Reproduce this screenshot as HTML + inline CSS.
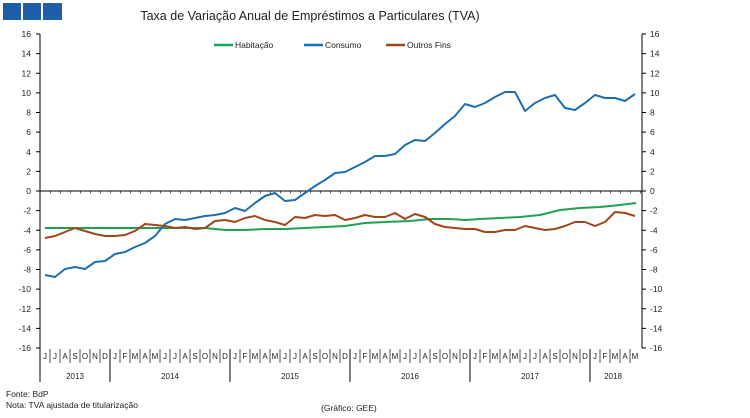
<!DOCTYPE html>
<html><head><meta charset="utf-8"><style>
body{margin:0;background:#fff;}
svg{display:block;font-family:"Liberation Sans",Arial,sans-serif;}
</style></head><body>
<svg width="750" height="418" viewBox="0 0 750 418" xmlns="http://www.w3.org/2000/svg">
<rect x="3" y="3" width="18" height="17" fill="#1f5ea8"/>
<rect x="23" y="3" width="18" height="17" fill="#1f5ea8"/>
<rect x="43" y="3" width="19" height="17" fill="#1f5ea8"/>
<text x="310" y="20" font-size="12.5" text-anchor="middle" fill="#222">Taxa de Variação Anual de Empréstimos a Particulares (TVA)</text>
<g font-size="8.5" fill="#222">
<line x1="214" y1="45" x2="233" y2="45" stroke="#1fa155" stroke-width="2.5"/><text x="235" y="48">Habitação</text>
<line x1="304" y1="45" x2="323" y2="45" stroke="#1f6fb0" stroke-width="2.5"/><text x="325" y="48">Consumo</text>
<line x1="386" y1="45" x2="405" y2="45" stroke="#a0461a" stroke-width="2.5"/><text x="407" y="48">Outros Fins</text>
</g>
<g stroke="#000" stroke-width="1">
<line x1="40" y1="34" x2="40" y2="382"/>
<line x1="642" y1="34" x2="642" y2="348"/>
<line x1="40" y1="191" x2="642" y2="191"/>
</g>
<g stroke="#000" stroke-width="1">
<path d="M36 34H40M36 53.6H40M36 73.3H40M36 92.9H40M36 112.5H40M36 132.1H40M36 151.8H40M36 171.4H40M36 191H40M36 210.6H40M36 230.3H40M36 249.9H40M36 269.5H40M36 289.1H40M36 308.8H40M36 328.4H40M36 348H40"/>
<path d="M642 34H646M642 53.6H646M642 73.3H646M642 92.9H646M642 112.5H646M642 132.1H646M642 151.8H646M642 171.4H646M642 191H646M642 210.6H646M642 230.3H646M642 249.9H646M642 269.5H646M642 289.1H646M642 308.8H646M642 328.4H646M642 348H646"/>
</g>
<line x1="50" y1="192.5" x2="642" y2="192.5" stroke="#444" stroke-width="2" stroke-dasharray="0.8 9.2"/>
<g font-size="8.5" fill="#222" text-anchor="end">
<text x="31" y="37">16</text><text x="31" y="56.6">14</text><text x="31" y="76.3">12</text><text x="31" y="95.9">10</text><text x="31" y="115.5">8</text><text x="31" y="135.1">6</text><text x="31" y="154.8">4</text><text x="31" y="174.4">2</text><text x="31" y="194">0</text><text x="31" y="213.6">-2</text><text x="31" y="233.3">-4</text><text x="31" y="252.9">-6</text><text x="31" y="272.5">-8</text><text x="31" y="292.1">-10</text><text x="31" y="311.8">-12</text><text x="31" y="331.4">-14</text><text x="31" y="351">-16</text>
</g>
<g font-size="8.5" fill="#222">
<text x="650" y="37">16</text><text x="650" y="56.6">14</text><text x="650" y="76.3">12</text><text x="650" y="95.9">10</text><text x="650" y="115.5">8</text><text x="650" y="135.1">6</text><text x="650" y="154.8">4</text><text x="650" y="174.4">2</text><text x="650" y="194">0</text><text x="650" y="213.6">-2</text><text x="650" y="233.3">-4</text><text x="650" y="252.9">-6</text><text x="650" y="272.5">-8</text><text x="650" y="292.1">-10</text><text x="650" y="311.8">-12</text><text x="650" y="331.4">-14</text><text x="650" y="351">-16</text>
</g>
<g stroke="#555" stroke-width="1">
<path d="M50 349V363M60 349V363M70 349V363M80 349V363M90 349V363M100 349V363M120 349V363M130 349V363M140 349V363M150 349V363M160 349V363M170 349V363M180 349V363M190 349V363M200 349V363M210 349V363M220 349V363M240 349V363M250 349V363M260 349V363M270 349V363M280 349V363M290 349V363M300 349V363M310 349V363M320 349V363M330 349V363M340 349V363M360 349V363M370 349V363M380 349V363M390 349V363M400 349V363M410 349V363M420 349V363M430 349V363M440 349V363M450 349V363M460 349V363M480 349V363M490 349V363M500 349V363M510 349V363M520 349V363M530 349V363M540 349V363M550 349V363M560 349V363M570 349V363M580 349V363M600 349V363M610 349V363M620 349V363M630 349V363"/>
<path d="M110 349V382M230 349V382M350 349V382M470 349V382M590 349V382" stroke="#000"/>
</g>
<g font-size="8" fill="#222" text-anchor="middle">
<text x="45" y="359">J</text><text x="55" y="359">J</text><text x="65" y="359">A</text><text x="75" y="359">S</text><text x="85" y="359">O</text><text x="95" y="359">N</text><text x="105" y="359">D</text>
<text x="115" y="359">J</text><text x="125" y="359">F</text><text x="135" y="359">M</text><text x="145" y="359">A</text><text x="155" y="359">M</text><text x="165" y="359">J</text><text x="175" y="359">J</text><text x="185" y="359">A</text><text x="195" y="359">S</text><text x="205" y="359">O</text><text x="215" y="359">N</text><text x="225" y="359">D</text>
<text x="235" y="359">J</text><text x="245" y="359">F</text><text x="255" y="359">M</text><text x="265" y="359">A</text><text x="275" y="359">M</text><text x="285" y="359">J</text><text x="295" y="359">J</text><text x="305" y="359">A</text><text x="315" y="359">S</text><text x="325" y="359">O</text><text x="335" y="359">N</text><text x="345" y="359">D</text>
<text x="355" y="359">J</text><text x="365" y="359">F</text><text x="375" y="359">M</text><text x="385" y="359">A</text><text x="395" y="359">M</text><text x="405" y="359">J</text><text x="415" y="359">J</text><text x="425" y="359">A</text><text x="435" y="359">S</text><text x="445" y="359">O</text><text x="455" y="359">N</text><text x="465" y="359">D</text>
<text x="475" y="359">J</text><text x="485" y="359">F</text><text x="495" y="359">M</text><text x="505" y="359">A</text><text x="515" y="359">M</text><text x="525" y="359">J</text><text x="535" y="359">J</text><text x="545" y="359">A</text><text x="555" y="359">S</text><text x="565" y="359">O</text><text x="575" y="359">N</text><text x="585" y="359">D</text>
<text x="595" y="359">J</text><text x="605" y="359">F</text><text x="615" y="359">M</text><text x="625" y="359">A</text><text x="635" y="359">M</text>
<text x="75" y="379">2013</text><text x="170" y="379">2014</text><text x="290" y="379">2015</text><text x="410" y="379">2016</text><text x="530" y="379">2017</text><text x="613" y="379">2018</text>
</g>
<g fill="none" stroke-width="2" stroke-linejoin="round">
<polyline stroke="#1fa155" points="45,228 95,228 135,228 175,228 205,228 225,230 245,230 265,229 285,229 305,228 325,227 345,226 365,223 385,222 410,221 430,219 450,219 465,220 480,219 500,218 520,217 540,215 560,210 580,208 600,207 620,205 636,203"/>
<polyline stroke="#1f6fb0" points="45,275 55,277 65,269 75,267 85,269 95,262 105,261 115,254 125,252 135,247 145,243 155,236 165,224 175,219 185,220 195,218 205,216 215,215 225,213 235,208 245,211 255,203 265,196 275,193 285,201 295,200 305,193 315,186 325,180 335,173 345,172 355,167 365,162 375,156 385,156 395,154 405,145 415,140 425,141 435,133 445,124 455,116 465,104 475,107 485,103 495,97 505,92 515,92 525,111 535,103 545,98 555,95 565,108 575,110 585,103 595,95 605,98 615,98 625,101 635,94"/>
<polyline stroke="#a0461a" points="45,238 55,236 65,232 75,228 85,231 95,234 105,236 115,236 125,235 135,231 145,224 155,225 165,226 175,228 185,227 195,229 205,228 215,221 225,220 235,222 245,218 255,216 265,220 275,222 285,225 295,217 305,218 315,215 325,216 335,215 345,220 355,218 365,215 375,217 385,217 395,213 405,219 415,214 425,217 435,224 445,227 455,228 465,229 475,229 485,232 495,232 505,230 515,230 525,226 535,228 545,230 555,229 565,226 575,222 585,222 595,226 605,222 615,212 625,213 635,216"/>
</g>
<g font-size="8.5" fill="#222">
<text x="6" y="397">Fonte: BdP</text>
<text x="6" y="408">Nota: TVA ajustada de titularização</text>
<text x="321" y="411">(Gráfico: GEE)</text>
</g>
</svg>
</body></html>
